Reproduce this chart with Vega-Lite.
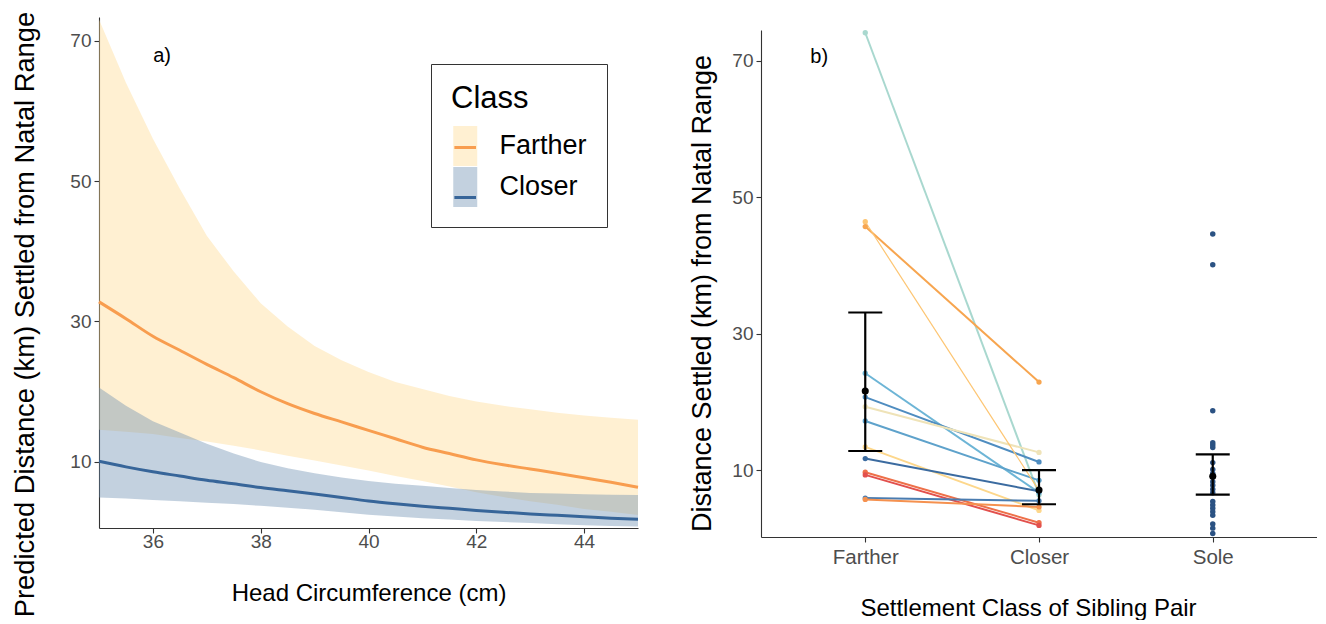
{
  "$schema": "https://vega.github.io/schema/vega-lite/v6.json",
  "background": "white",
  "padding": {"left": 10, "top": 11, "right": 0, "bottom": 0},
  "spacing": 43,
  "config": {
    "font": "Liberation Sans",
    "view": {"stroke": null},
    "axis": {"grid": false, "domainColor": "#333333", "domainWidth": 1.1, "tickColor": "#333333", "tickSize": 5, "tickWidth": 1.1, "labelColor": "#4D4D4D", "titleColor": "#000000", "titleFontWeight": "normal"}
  },
  "resolve": {
    "scale": {"color": "independent", "fill": "independent", "stroke": "independent"},
    "legend": {"color": "independent", "fill": "independent", "stroke": "independent"}
  },
  "datasets": {
    "band": [
      {"hc": 35, "Class": "Farther", "lo": 14.6, "hi": 73.0},
      {"hc": 35.5, "Class": "Farther", "lo": 14.3, "hi": 64.0},
      {"hc": 36, "Class": "Farther", "lo": 14.0, "hi": 56.0},
      {"hc": 36.5, "Class": "Farther", "lo": 13.4, "hi": 48.9},
      {"hc": 37, "Class": "Farther", "lo": 12.9, "hi": 42.2},
      {"hc": 37.5, "Class": "Farther", "lo": 12.3, "hi": 37.1},
      {"hc": 38, "Class": "Farther", "lo": 11.65, "hi": 32.6},
      {"hc": 38.5, "Class": "Farther", "lo": 10.9, "hi": 29.3},
      {"hc": 39, "Class": "Farther", "lo": 10.2, "hi": 26.5},
      {"hc": 39.5, "Class": "Farther", "lo": 9.5, "hi": 24.5},
      {"hc": 40, "Class": "Farther", "lo": 8.8, "hi": 22.8},
      {"hc": 40.5, "Class": "Farther", "lo": 8.0, "hi": 21.4},
      {"hc": 41, "Class": "Farther", "lo": 7.3, "hi": 20.4},
      {"hc": 41.5, "Class": "Farther", "lo": 6.5, "hi": 19.4},
      {"hc": 42, "Class": "Farther", "lo": 5.7, "hi": 18.6},
      {"hc": 42.5, "Class": "Farther", "lo": 5.0, "hi": 18.0},
      {"hc": 43, "Class": "Farther", "lo": 4.4, "hi": 17.5},
      {"hc": 43.5, "Class": "Farther", "lo": 3.9, "hi": 17.0},
      {"hc": 44, "Class": "Farther", "lo": 3.3, "hi": 16.6},
      {"hc": 44.5, "Class": "Farther", "lo": 2.9, "hi": 16.3},
      {"hc": 45, "Class": "Farther", "lo": 2.45, "hi": 16.0},
      {"hc": 35, "Class": "Closer", "lo": 4.95, "hi": 20.6},
      {"hc": 35.5, "Class": "Closer", "lo": 4.8, "hi": 18.0},
      {"hc": 36, "Class": "Closer", "lo": 4.6, "hi": 15.8},
      {"hc": 36.5, "Class": "Closer", "lo": 4.4, "hi": 14.2},
      {"hc": 37, "Class": "Closer", "lo": 4.2, "hi": 12.6},
      {"hc": 37.5, "Class": "Closer", "lo": 4.0, "hi": 11.2},
      {"hc": 38, "Class": "Closer", "lo": 3.75, "hi": 10.0},
      {"hc": 38.5, "Class": "Closer", "lo": 3.5, "hi": 9.1},
      {"hc": 39, "Class": "Closer", "lo": 3.2, "hi": 8.4},
      {"hc": 39.5, "Class": "Closer", "lo": 2.85, "hi": 7.8},
      {"hc": 40, "Class": "Closer", "lo": 2.5, "hi": 7.3},
      {"hc": 40.5, "Class": "Closer", "lo": 2.25, "hi": 6.9},
      {"hc": 41, "Class": "Closer", "lo": 2.0, "hi": 6.6},
      {"hc": 41.5, "Class": "Closer", "lo": 1.8, "hi": 6.3},
      {"hc": 42, "Class": "Closer", "lo": 1.6, "hi": 6.0},
      {"hc": 42.5, "Class": "Closer", "lo": 1.45, "hi": 5.8},
      {"hc": 43, "Class": "Closer", "lo": 1.3, "hi": 5.6},
      {"hc": 43.5, "Class": "Closer", "lo": 1.15, "hi": 5.5},
      {"hc": 44, "Class": "Closer", "lo": 1.0, "hi": 5.4},
      {"hc": 44.5, "Class": "Closer", "lo": 0.9, "hi": 5.35},
      {"hc": 45, "Class": "Closer", "lo": 0.8, "hi": 5.3}
    ],
    "fit": [
      {"hc": 35, "Class": "Farther", "fit": 32.8},
      {"hc": 35.5, "Class": "Farther", "fit": 30.4},
      {"hc": 36, "Class": "Farther", "fit": 27.9},
      {"hc": 36.5, "Class": "Farther", "fit": 25.9},
      {"hc": 37, "Class": "Farther", "fit": 23.9},
      {"hc": 37.5, "Class": "Farther", "fit": 22.0},
      {"hc": 38, "Class": "Farther", "fit": 20.0},
      {"hc": 38.5, "Class": "Farther", "fit": 18.3},
      {"hc": 39, "Class": "Farther", "fit": 16.9},
      {"hc": 39.5, "Class": "Farther", "fit": 15.7},
      {"hc": 40, "Class": "Farther", "fit": 14.5},
      {"hc": 40.5, "Class": "Farther", "fit": 13.3},
      {"hc": 41, "Class": "Farther", "fit": 12.1},
      {"hc": 41.5, "Class": "Farther", "fit": 11.2},
      {"hc": 42, "Class": "Farther", "fit": 10.3},
      {"hc": 42.5, "Class": "Farther", "fit": 9.6},
      {"hc": 43, "Class": "Farther", "fit": 9.0},
      {"hc": 43.5, "Class": "Farther", "fit": 8.4},
      {"hc": 44, "Class": "Farther", "fit": 7.75},
      {"hc": 44.5, "Class": "Farther", "fit": 7.1},
      {"hc": 45, "Class": "Farther", "fit": 6.4},
      {"hc": 35, "Class": "Closer", "fit": 10.1},
      {"hc": 35.5, "Class": "Closer", "fit": 9.3},
      {"hc": 36, "Class": "Closer", "fit": 8.6},
      {"hc": 36.5, "Class": "Closer", "fit": 8.0},
      {"hc": 37, "Class": "Closer", "fit": 7.4},
      {"hc": 37.5, "Class": "Closer", "fit": 6.9},
      {"hc": 38, "Class": "Closer", "fit": 6.35},
      {"hc": 38.5, "Class": "Closer", "fit": 5.9},
      {"hc": 39, "Class": "Closer", "fit": 5.45},
      {"hc": 39.5, "Class": "Closer", "fit": 4.95},
      {"hc": 40, "Class": "Closer", "fit": 4.45},
      {"hc": 40.5, "Class": "Closer", "fit": 4.05},
      {"hc": 41, "Class": "Closer", "fit": 3.7},
      {"hc": 41.5, "Class": "Closer", "fit": 3.4},
      {"hc": 42, "Class": "Closer", "fit": 3.1},
      {"hc": 42.5, "Class": "Closer", "fit": 2.85},
      {"hc": 43, "Class": "Closer", "fit": 2.6},
      {"hc": 43.5, "Class": "Closer", "fit": 2.4},
      {"hc": 44, "Class": "Closer", "fit": 2.2},
      {"hc": 44.5, "Class": "Closer", "fit": 2.0},
      {"hc": 45, "Class": "Closer", "fit": 1.85}
    ],
    "labA": [{"lab": "a)", "hc": 36.17, "d": 67}],
    "labB": [{"lab": "b)", "cls": "Farther", "dist": 69.7}],
    "pairs": [
      {"pair": "p1", "cls": "Farther", "dist": 74.1}, {"pair": "p1", "cls": "Closer", "dist": 6.4},
      {"pair": "p2", "cls": "Farther", "dist": 46.4}, {"pair": "p2", "cls": "Closer", "dist": 7.0},
      {"pair": "p3", "cls": "Farther", "dist": 45.7}, {"pair": "p3", "cls": "Closer", "dist": 22.9},
      {"pair": "p4", "cls": "Farther", "dist": 24.2}, {"pair": "p4", "cls": "Closer", "dist": 6.7},
      {"pair": "p5", "cls": "Farther", "dist": 20.7}, {"pair": "p5", "cls": "Closer", "dist": 11.2},
      {"pair": "p6", "cls": "Farther", "dist": 19.3}, {"pair": "p6", "cls": "Closer", "dist": 12.6},
      {"pair": "p7", "cls": "Farther", "dist": 17.2}, {"pair": "p7", "cls": "Closer", "dist": 8.5},
      {"pair": "p8", "cls": "Farther", "dist": 13.4}, {"pair": "p8", "cls": "Closer", "dist": 4.1},
      {"pair": "p9", "cls": "Farther", "dist": 11.7}, {"pair": "p9", "cls": "Closer", "dist": 6.9},
      {"pair": "p10", "cls": "Farther", "dist": 9.7}, {"pair": "p10", "cls": "Closer", "dist": 2.3},
      {"pair": "p11", "cls": "Farther", "dist": 9.3}, {"pair": "p11", "cls": "Closer", "dist": 1.9},
      {"pair": "p12", "cls": "Farther", "dist": 5.9}, {"pair": "p12", "cls": "Closer", "dist": 5.5},
      {"pair": "p13", "cls": "Farther", "dist": 5.7}, {"pair": "p13", "cls": "Closer", "dist": 4.6}
    ],
    "sole": [
      {"cls": "Sole", "dist": 44.6}, {"cls": "Sole", "dist": 40.1}, {"cls": "Sole", "dist": 18.7},
      {"cls": "Sole", "dist": 14.0}, {"cls": "Sole", "dist": 13.7}, {"cls": "Sole", "dist": 13.3},
      {"cls": "Sole", "dist": 11.1}, {"cls": "Sole", "dist": 10.1}, {"cls": "Sole", "dist": 9.5},
      {"cls": "Sole", "dist": 9.0}, {"cls": "Sole", "dist": 8.3}, {"cls": "Sole", "dist": 7.8},
      {"cls": "Sole", "dist": 7.2}, {"cls": "Sole", "dist": 6.7}, {"cls": "Sole", "dist": 5.4},
      {"cls": "Sole", "dist": 4.9}, {"cls": "Sole", "dist": 4.4}, {"cls": "Sole", "dist": 3.9},
      {"cls": "Sole", "dist": 3.4}, {"cls": "Sole", "dist": 2.1}, {"cls": "Sole", "dist": 1.5},
      {"cls": "Sole", "dist": 0.7}
    ],
    "err": [
      {"cls": "Farther", "mean": 21.6, "lo": 12.8, "hi": 33.1},
      {"cls": "Closer", "mean": 7.1, "lo": 5.0, "hi": 10.0},
      {"cls": "Sole", "mean": 9.1, "lo": 6.4, "hi": 12.3}
    ]
  },
  "hconcat": [
    {
      "width": 539,
      "height": 511,
      "layer": [
        {
          "data": {"name": "band"},
          "transform": [{"filter": "datum.Class === 'Farther'"}],
          "mark": {"type": "area", "opacity": 0.4},
          "encoding": {
            "x": {"field": "hc", "type": "quantitative", "title": "Head Circumference (cm)",
              "scale": {"domain": [35, 45], "nice": false, "zero": false},
              "axis": {"values": [36, 38, 40, 42, 44], "labelFontSize": 19, "labelBaseline": "alphabetic", "labelPadding": 14, "titleFontSize": 24, "titleBaseline": "alphabetic", "titleY": 72}},
            "y": {"field": "hi", "type": "quantitative", "title": "Predicted Distance (km) Settled from Natal Range",
              "scale": {"domain": [0.6, 73.35], "nice": false, "zero": false},
              "axis": {"values": [10, 30, 50, 70], "labelFontSize": 19, "labelPadding": 3, "titleFontSize": 27.3, "titleAngle": 270, "titleAlign": "center", "titleBaseline": "alphabetic", "titleX": -66, "titleY": 297}},
            "y2": {"field": "lo"},
            "fill": {"field": "Class", "type": "nominal",
              "scale": {"domain": ["Farther", "Closer"], "range": ["#FFD98E", "#698CAF"]},
              "legend": {"title": "Class", "orient": "none", "legendX": 332, "legendY": 47, "padding": 20, "strokeColor": "#333333",
                "symbolType": "M-0.8875,-1L0.3125,-1L0.3125,1L-0.8875,1Z", "symbolSize": 1600, "symbolStrokeWidth": 0,
                "titleFontSize": 31, "titleFontWeight": "normal", "titleColor": "#000000", "titlePadding": 11,
                "labelFontSize": 27, "labelColor": "#000000", "labelOffset": 8.5, "rowPadding": 1, "labelExpr": "datum.label + '\u00a0'"}}
          }
        },
        {
          "data": {"name": "band"},
          "transform": [{"filter": "datum.Class === 'Closer'"}],
          "mark": {"type": "area", "opacity": 0.4},
          "encoding": {
            "x": {"field": "hc", "type": "quantitative", "title": "Head Circumference (cm)"},
            "y": {"field": "hi", "type": "quantitative", "title": "Predicted Distance (km) Settled from Natal Range"},
            "y2": {"field": "lo"},
            "fill": {"field": "Class", "type": "nominal"}
          }
        },
        {
          "data": {"name": "fit"},
          "mark": {"type": "line", "strokeWidth": 3, "interpolate": "monotone"},
          "encoding": {
            "x": {"field": "hc", "type": "quantitative", "title": "Head Circumference (cm)"},
            "y": {"field": "fit", "type": "quantitative", "title": "Predicted Distance (km) Settled from Natal Range"},
            "stroke": {"field": "Class", "type": "nominal", "sort": ["Farther", "Closer"],
              "scale": {"range": ["#F89D4F", "#376599"]},
              "legend": {"title": "Class", "orient": "none", "legendX": 332, "legendY": 47, "padding": 20,
                "symbolType": "M-0.8875,-0.925M-0.83,0L0.25,0M0.3125,0.925", "symbolSize": 1600, "symbolStrokeWidth": 3, "symbolOffset": -1.5,
                "titleFontSize": 31, "titleFontWeight": "normal", "titleColor": "transparent", "titlePadding": 11,
                "labelFontSize": 27, "labelColor": "transparent", "labelExpr": "''", "labelOffset": 8.5, "rowPadding": 1}}
          }
        },
        {
          "data": {"name": "labA"},
          "mark": {"type": "text", "fontSize": 20, "align": "center", "baseline": "alphabetic", "color": "#000000"},
          "encoding": {
            "x": {"field": "hc", "type": "quantitative", "title": "Head Circumference (cm)"},
            "y": {"field": "d", "type": "quantitative", "title": "Predicted Distance (km) Settled from Natal Range"},
            "text": {"field": "lab"}
          }
        }
      ]
    },
    {
      "width": 556,
      "height": 520,
      "layer": [
        {
          "data": {"name": "pairs"},
          "transform": [{"filter": "datum.pair !== 'p2'"}],
          "mark": {"type": "line", "strokeWidth": 2},
          "encoding": {
            "x": {"field": "cls", "type": "nominal", "title": "Settlement Class of Sibling Pair",
              "scale": {"type": "point", "domain": ["Farther", "Closer", "Sole"], "padding": 0.6},
              "axis": {"labelAngle": 0, "labelFontSize": 20.5, "labelBaseline": "alphabetic", "labelPadding": 21, "titleFontSize": 24, "titleBaseline": "alphabetic", "titleY": 78, "titleX": 267}},
            "y": {"field": "dist", "type": "quantitative", "title": "Distance Settled (km) from Natal Range",
              "scale": {"domain": [0.2, 74.5], "nice": false, "zero": false, "range": [520, 13]},
              "axis": {"values": [10, 30, 50, 70], "labelFontSize": 19, "labelPadding": 3, "titleFontSize": 27, "titleAngle": 270, "titleAlign": "center", "titleBaseline": "alphabetic", "titleX": -51, "titleY": 276}},
            "detail": {"field": "pair"},
            "color": {"field": "pair", "type": "nominal", "legend": null,
              "scale": {"domain": ["p1", "p2", "p3", "p4", "p5", "p6", "p7", "p8", "p9", "p10", "p11", "p12", "p13"],
                "range": ["#A9D8CF", "#FDC572", "#F7A54F", "#6DB5D6", "#4F8DC0", "#EFE3B8", "#5EA2CB", "#FDD78B", "#3B6BA0", "#EE7049", "#E2504D", "#4A7CB0", "#F5914F"]}}
          }
        },
        {
          "data": {"name": "pairs"},
          "transform": [{"filter": "datum.pair === 'p2'"}],
          "mark": {"type": "line", "strokeWidth": 1.2},
          "encoding": {
            "x": {"field": "cls", "type": "nominal", "title": "Settlement Class of Sibling Pair"},
            "y": {"field": "dist", "type": "quantitative", "title": "Distance Settled (km) from Natal Range"},
            "color": {"field": "pair", "type": "nominal", "legend": null}
          }
        },
        {
          "data": {"name": "pairs"},
          "mark": {"type": "circle", "size": 28, "opacity": 1},
          "encoding": {
            "x": {"field": "cls", "type": "nominal", "title": "Settlement Class of Sibling Pair"},
            "y": {"field": "dist", "type": "quantitative", "title": "Distance Settled (km) from Natal Range"},
            "color": {"field": "pair", "type": "nominal", "legend": null}
          }
        },
        {
          "data": {"name": "sole"},
          "mark": {"type": "circle", "size": 30, "opacity": 1, "color": "#2B5283"},
          "encoding": {
            "x": {"field": "cls", "type": "nominal", "title": "Settlement Class of Sibling Pair"},
            "y": {"field": "dist", "type": "quantitative", "title": "Distance Settled (km) from Natal Range"}
          }
        },
        {
          "data": {"name": "err"},
          "mark": {"type": "rule", "color": "#000000", "strokeWidth": 2.2},
          "encoding": {
            "x": {"field": "cls", "type": "nominal", "title": "Settlement Class of Sibling Pair"},
            "y": {"field": "lo", "type": "quantitative", "title": "Distance Settled (km) from Natal Range"},
            "y2": {"field": "hi"}
          }
        },
        {
          "data": {"name": "err"},
          "mark": {"type": "tick", "color": "#000000", "thickness": 2.2, "size": 34, "orient": "horizontal", "opacity": 1},
          "encoding": {
            "x": {"field": "cls", "type": "nominal", "title": "Settlement Class of Sibling Pair"},
            "y": {"field": "lo", "type": "quantitative", "title": "Distance Settled (km) from Natal Range"}
          }
        },
        {
          "data": {"name": "err"},
          "mark": {"type": "tick", "color": "#000000", "thickness": 2.2, "size": 34, "orient": "horizontal", "opacity": 1},
          "encoding": {
            "x": {"field": "cls", "type": "nominal", "title": "Settlement Class of Sibling Pair"},
            "y": {"field": "hi", "type": "quantitative", "title": "Distance Settled (km) from Natal Range"}
          }
        },
        {
          "data": {"name": "err"},
          "mark": {"type": "circle", "color": "#000000", "size": 50, "opacity": 1},
          "encoding": {
            "x": {"field": "cls", "type": "nominal", "title": "Settlement Class of Sibling Pair"},
            "y": {"field": "mean", "type": "quantitative", "title": "Distance Settled (km) from Natal Range"}
          }
        },
        {
          "data": {"name": "labB"},
          "mark": {"type": "text", "fontSize": 20, "align": "center", "baseline": "alphabetic", "dx": -46, "color": "#000000"},
          "encoding": {
            "x": {"field": "cls", "type": "nominal", "title": "Settlement Class of Sibling Pair"},
            "y": {"field": "dist", "type": "quantitative", "title": "Distance Settled (km) from Natal Range"},
            "text": {"field": "lab"}
          }
        }
      ]
    }
  ]
}
